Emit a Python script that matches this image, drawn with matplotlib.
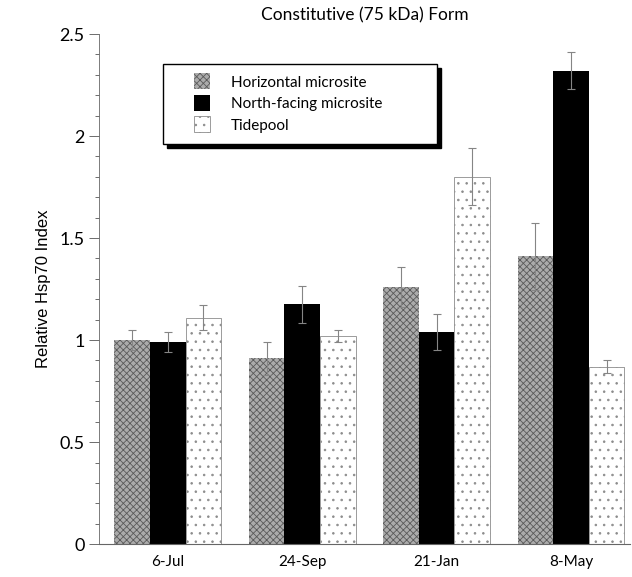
import numpy as np
import matplotlib.pyplot as plt
from matplotlib.ticker import MultipleLocator
from matplotlib.patches import Rectangle
from matplotlib.container import BarContainer
from matplotlib.legend_handler import HandlerPatch, update_from_first_child

plt.rcParams['font.family'] = ['Lato', 'DejaVu Sans']
plt.rcParams['hatch.linewidth'] = 0.6

dates = ['6-Jul', '24-Sep', '21-Jan', '8-May']
horizontal = [1.00, 0.91, 1.26, 1.41]
horizontal_err = [0.05, 0.08, 0.10, 0.165]
north = [0.99, 1.175, 1.04, 2.32]
north_err = [0.05, 0.09, 0.09, 0.09]
tidepool = [1.11, 1.02, 1.80, 0.87]
tidepool_err = [0.06, 0.03, 0.14, 0.03]

x = np.arange(len(dates))
w = 0.265

fig = plt.figure(figsize=(6.32, 5.77), dpi=100)
ax = fig.add_axes([0.157, 0.057, 0.84, 0.884])

ebar = dict(ecolor='#858585', elinewidth=0.8, capsize=3, capthick=0.8)
ax.bar(x - w, horizontal, w, yerr=horizontal_err, color='#ababab',
       edgecolor='#5a5a5a', hatch='xxxxx', linewidth=0,
       error_kw=ebar, label='Horizontal microsite')
ax.bar(x, north, w, yerr=north_err, color='black', edgecolor='black',
       linewidth=0, error_kw=ebar, label='North-facing microsite')
ax.bar(x + w, tidepool, w, yerr=tidepool_err, color='white',
       edgecolor='#8c8c8c', hatch='..', linewidth=0.6,
       error_kw=ebar, label='Tidepool')

ax.set_xlim(-0.51, 3.44)
ax.set_ylim(0, 2.5)
ax.yaxis.set_minor_locator(MultipleLocator(0.1))
ax.set_yticks([0, 0.5, 1, 1.5, 2, 2.5])
ax.set_yticklabels(['0', '0.5', '1', '1.5', '2', '2.5'], fontsize=13)
ax.tick_params(axis='y', which='major', length=7, width=0.6, color='#555555')
ax.tick_params(axis='y', which='minor', length=3, width=0.6, color='#555555')
ax.set_xticks(x)
ax.set_xticklabels(dates, fontsize=11)
ax.tick_params(axis='x', length=0, pad=8)

for s in ['top', 'right']:
    ax.spines[s].set_visible(False)
ax.spines['left'].set_color('#666666')
ax.spines['bottom'].set_color('#666666')
ax.spines['left'].set_linewidth(0.6)
ax.spines['bottom'].set_linewidth(0.8)

ax.set_ylabel('Relative Hsp70 Index', fontsize=12,
              family=['Liberation Sans', 'DejaVu Sans'], labelpad=6)
ax.set_title('Constitutive (75 kDa) Form', fontsize=12.5, pad=10)


# small square swatch at the right end of the handle box
def swatch(legend, orig_handle, xdescent, ydescent, width, height, fontsize):
    s = height * 1.25
    return Rectangle((-xdescent + width - s, -ydescent - 0.12 * height), s, s)


leg_h = 0.157
leg = ax.legend(loc='upper left', bbox_to_anchor=(0.12, 0.942 - leg_h, 0.516, leg_h),
                mode='expand', frameon=True, fancybox=False,
                shadow={'color': 'black', 'alpha': 1, 'ox': 3, 'oy': -3},
                edgecolor='black', fontsize=11, handlelength=2.3,
                handleheight=0.9, handletextpad=1.4, borderpad=0.75,
                labelspacing=0.45, borderaxespad=0,
                handler_map={BarContainer: HandlerPatch(
                    patch_func=swatch, update_func=update_from_first_child)})
leg.get_frame().set_linewidth(1.0)

fig.savefig('out.png', dpi=100)
